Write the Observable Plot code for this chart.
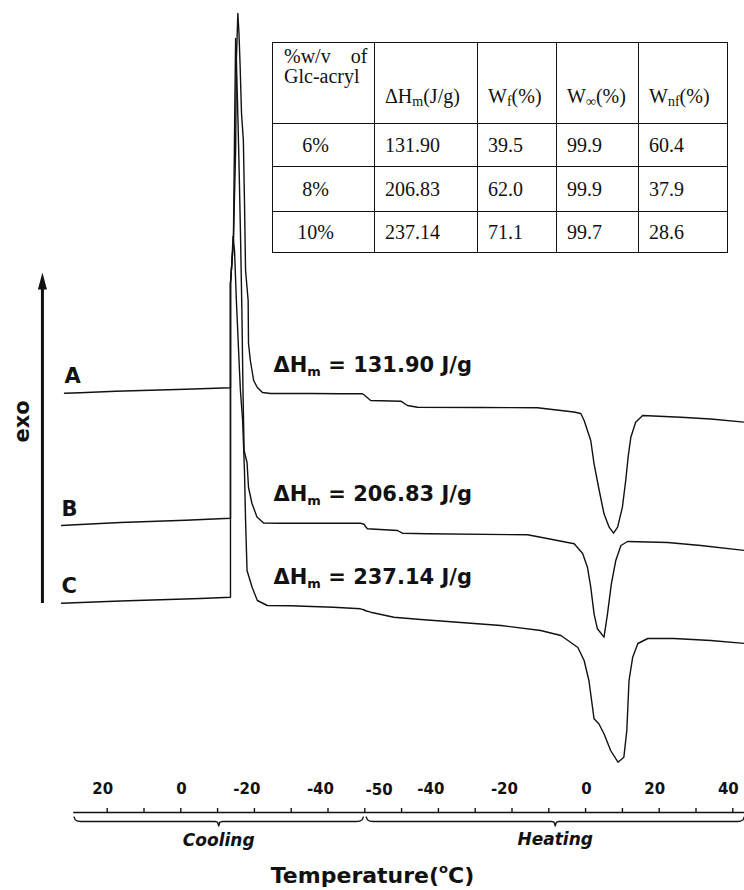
<!DOCTYPE html>
<html><head><meta charset="utf-8">
<script src="https://cdn.jsdelivr.net/npm/d3@7"></script>
<script src="https://cdn.jsdelivr.net/npm/@observablehq/plot@0.6"></script>
<style>
html,body{margin:0;padding:0;background:#fff;}
#wrap{position:relative;width:744px;height:890px;overflow:hidden;background:#fff;}
#wrap svg{position:absolute;left:0;top:0;}
table.dsc{position:absolute;left:272px;top:42px;border-collapse:collapse;table-layout:fixed;width:455px;
  font-family:"Liberation Serif","Times New Roman",serif;font-size:20px;color:#111;background:#fff;}
table.dsc td{border:1.5px solid #111;padding:0 0 0 10px;line-height:20px;vertical-align:middle;white-space:nowrap;overflow:hidden;}
table.dsc tr.hd td{vertical-align:top;padding-top:43px;}
table.dsc tr.hd td.first{padding-top:3px;padding-left:11px;}
table.dsc td.c1{text-align:center;padding-left:0;padding-right:16px;}
table.dsc sub{font-size:14px;line-height:0;vertical-align:-3px;}
</style>
</head><body>
<div id="wrap"></div>
<script>
// ---------- data (temperature in °C, heat flow in arbitrary units, exo up) ----------
const curveNames = ["A", "B", "C"];
const coolA = [[31.6,41.93],[27.3,41.97],[17.7,42.13],[-1.3,42.33],[-13.5,42.47],[-13.5,52.9],[-14.3,57.2],[-14.9,66.2],[-15.1,75.2],[-15.5,79.9],[-15.8,78.0],[-16.1,74.9],[-16.5,69.9],[-17.0,67.2],[-17.3,61.2],[-17.6,54.2],[-18.3,51.2],[-18.4,46.9],[-18.9,45.2],[-19.8,43.2],[-20.8,42.5],[-22.2,42.0],[-24.4,41.9],[-35.2,41.9],[-43.4,41.88],[-49.3,41.87],[-49.9,41.75]];
const heatA = [[-60,41.7],[-58.4,41.2],[-50.2,41.13],[-48.4,40.7],[-45.7,40.53],[-28.5,40.5],[-13.1,40.47],[-6.7,40.2],[-3.2,40.05],[-1.3,39.9],[-0.4,39.2],[1.4,37.2],[2.3,34.87],[3.7,32.2],[5.0,29.87],[6.4,28.53],[7.6,27.93],[8.7,28.53],[10.0,30.53],[10.9,33.2],[11.55,35.53],[12.3,37.53],[13.6,39.03],[15.5,39.7],[25.9,39.53],[34.0,39.35],[43.3,39.03]];
const coolB = [[32.4,28.7],[27.3,28.8],[16.4,29.0],[-1.3,29.23],[-13.5,29.43],[-13.5,52.9],[-14.3,57.2],[-14.7,71.2],[-14.9,77.4],[-15.1,75.2],[-15.4,71.2],[-15.8,65.2],[-16.2,58.2],[-16.6,50.2],[-16.9,42.2],[-17.2,36.2],[-18.0,35.0],[-18.4,32.5],[-19.35,30.9],[-20.7,29.55],[-22.5,28.95],[-27.1,28.93],[-48.8,28.93],[-49.9,28.8]];
const heatB = [[-60,28.7],[-59.3,28.37],[-51.1,28.2],[-49.8,27.93],[-43.0,27.87],[-15.8,27.77],[-12.2,27.53],[-3.1,26.87],[-0.8,25.9],[0.5,24.53],[1.4,22.53],[2.3,19.87],[3.2,18.37],[4.3,17.87],[5.0,17.53],[5.95,19.87],[7.0,22.87],[8.2,25.2],[9.6,26.7],[11.4,27.1],[22.3,27.0],[31.3,26.7],[43.3,26.2]];
const coolC = [[32.4,20.93],[16.4,21.15],[-5.35,21.4],[-13.5,21.53],[-13.5,52.9],[-13.9,55.2],[-14.2,57.6],[-14.6,56.2],[-15.1,51.2],[-15.7,46.2],[-16.2,42.2],[-16.8,39.2],[-17.3,34.2],[-17.6,29.2],[-18.0,24.2],[-19.4,22.5],[-20.8,21.2],[-23.5,20.7],[-29.8,20.67],[-41.5,20.53],[-48.8,20.37],[-49.9,20.25]];
const heatC = [[-60,20.2],[-58.4,20.03],[-52.1,19.53],[-44.8,19.3],[-33.9,19.0],[-23.0,18.7],[-12.2,18.2],[-6.7,17.7],[-2.1,16.5],[-0.4,15.2],[0.9,13.2],[2.3,9.37],[3.6,8.87],[5.0,7.87],[6.8,6.2],[8.8,5.03],[10.4,5.53],[11.2,8.2],[11.8,13.2],[12.8,15.53],[14.2,16.9],[16.9,17.4],[24.0,17.4],[34.0,17.2],[43.3,16.9]];

// table values
const concentration = ["6%", "8%", "10%"];
const deltaHm = [131.90, 206.83, 237.14];
const wF = [39.5, 62.0, 71.1];
const wInf = [99.9, 99.9, 99.7];
const wNF = [60.4, 37.9, 28.6];

// axis ticks
const coolTicks = [20, 10, 0, -10, -20, -30, -40, -50];
const heatTicks = [-50, -40, -30, -20, -10, 0, 10, 20, 30, 40];
const coolTickLabels = [20, 0, -20, -40];
const heatTickLabels = [-40, -20, 0, 20, 40];
const heatStartLabel = [-50];

// ---------- composite x position: cooling (20 → -50) then heating (-60 → 40) ----------
const coolU = T => (20 - T) / 10;
const heatU = T => 7 + (T + 60) / 10;

const rows = [];
function add(seg, arr, f) { for (const [T, v] of arr) rows.push({seg, u: f(T), v}); }
add("A-c", coolA, coolU); add("A-h", heatA, heatU);
add("B-c", coolB, coolU); add("B-h", heatB, heatU);
add("C-c", coolC, coolU); add("C-h", heatC, heatU);

const coolCurves = [coolA, coolB, coolC];
const tailFlow = coolCurves.map(c => c.find(p => p[0] <= -24)[1]);

function brace(u0, u1, name) {
  const m = (u0 + u1) / 2;
  const pts = [[u0,-0.45],[u0+0.03,-0.72],[u0+0.1,-0.87],[u0+0.18,-0.9],[m-0.1,-0.9],[m-0.03,-0.97],[m,-1.35],[m+0.03,-0.97],[m+0.1,-0.9],[u1-0.18,-0.9],[u1-0.1,-0.87],[u1-0.03,-0.72],[u1,-0.45]];
  return pts.map(([u, v]) => ({name, u, v}));
}
const braceCool = brace(coolU(29.0), coolU(-49.6), "cool");
const braceHeat = brace(heatU(-59.6), heatU(43.1), "heat");
const braces = braceCool.concat(braceHeat);
const coolMid = (braceCool[0].u + braceCool[braceCool.length-1].u) / 2;
const heatMid = (braceHeat[0].u + braceHeat[braceHeat.length-1].u) / 2;

const FONT = "DejaVu Sans";
const pxPerUnit = 36.8;
const exoU = coolU(37.6);
const arrowHead = {draw(ctx) { ctx.moveTo(0, 0); ctx.lineTo(4.5, 17); ctx.lineTo(-4.5, 17); ctx.closePath(); }};

const tickU = coolTicks.map(coolU).concat(heatTicks.map(heatU));
const dhStrings = deltaHm.map(d => d.toFixed(2));

const svg = Plot.plot({
  width: 744, height: 890,
  marginTop: 0, marginBottom: 78, marginLeft: 0, marginRight: 0,
  x: {domain: [-106.7 / pxPerUnit, (744 - 106.7) / pxPerUnit], axis: null},
  y: {domain: [0, 81.2], axis: null},
  style: {background: "white", color: "#111"},
  marks: [
    Plot.line(rows, {x: "u", y: "v", z: "seg", stroke: "#111", strokeWidth: 1.4}),
    // x axis
    Plot.ruleY([0], {x1: coolU(29.1), x2: heatU(44), stroke: "#111", strokeWidth: 1.4}),
    Plot.ruleX(tickU, {x: d => d, y1: 0, y2: 0.4, stroke: "#111", strokeWidth: 1.4}),
    Plot.line(braces, {x: "u", y: "v", z: "name", stroke: "#111", strokeWidth: 1.3}),
    Plot.text(coolTickLabels, {x: d => coolU(d), y: 0, text: d => String(d), textAnchor: "end", lineAnchor: "bottom", dx: 6, dy: -19, fontFamily: FONT, fontWeight: "bold", fontSize: 15}),
    Plot.text(heatTickLabels, {x: d => heatU(d), y: 0, text: d => String(d), textAnchor: "end", lineAnchor: "bottom", dx: 6, dy: -19, fontFamily: FONT, fontWeight: "bold", fontSize: 15}),
    Plot.text(heatStartLabel, {x: d => heatU(d), y: 0, text: d => String(d), textAnchor: "end", lineAnchor: "bottom", dx: -9, dy: -18, fontFamily: FONT, fontWeight: "bold", fontSize: 15}),
    Plot.text(["Cooling"], {x: () => coolMid, y: 0, dy: 33, lineAnchor: "bottom", fontFamily: FONT, fontWeight: "bold", fontStyle: "italic", fontSize: 17}),
    Plot.text(["Heating"], {x: () => heatMid, y: 0, dy: 32, lineAnchor: "bottom", fontFamily: FONT, fontWeight: "bold", fontStyle: "italic", fontSize: 17}),
    Plot.text(["Temperature(oC)"], {frameAnchor: "bottom", dy: 70, lineAnchor: "bottom", fontFamily: FONT, fontWeight: "bold", fontSize: 22}),
    // exo arrow
    Plot.ruleX([exoU], {x: d => d, y1: 20.9, y2: 52.6, stroke: "#111", strokeWidth: 3}),
    Plot.dot([exoU], {x: d => d, y: 54.0, symbol: arrowHead, fill: "#111", stroke: "none", r: 5}),
    Plot.text(["exo"], {frameAnchor: "left", dx: 22, y: 37.0, rotate: -90, fontFamily: FONT, fontWeight: "bold", fontSize: 21}),
    // curve labels
    Plot.text(curveNames, {x: (d, i) => coolU(coolCurves[i][0][0]), y: (d, i) => coolCurves[i][0][1], textAnchor: "start", lineAnchor: "bottom", dy: -10, fontFamily: FONT, fontWeight: "bold", fontSize: 21}),
    // enthalpy labels
    Plot.text(dhStrings, {x: () => coolU(-25.2), y: (d, i) => tailFlow[i], text: d => d, textAnchor: "start", lineAnchor: "bottom", dy: -22, fontFamily: FONT, fontWeight: "bold", fontSize: 21})
  ]
});

// rich text: subscripts / superscripts
d3.select(svg).selectAll("text").each(function() {
  const s = this.textContent;
  if (dhStrings.includes(s)) {
    const t = d3.select(this).text(null);
    t.append("tspan").text("ΔH");
    t.append("tspan").attr("font-size", 13).attr("dy", 4).text("m");
    t.append("tspan").attr("dy", -4).text(" = " + s + " J/g");
  } else if (s === "Temperature(oC)") {
    const t = d3.select(this).text(null);
    t.append("tspan").text("Temperature(");
    t.append("tspan").attr("font-size", 13).attr("dy", -10).text("o");
    t.append("tspan").attr("dy", 10).text("C)");
  }
});

const wrap = document.getElementById("wrap");
wrap.appendChild(svg);

// table
const fmt1 = v => v.toFixed(1);
let html = '<table class="dsc"><colgroup><col style="width:102px"><col style="width:103px"><col style="width:79px"><col style="width:82px"><col style="width:89px"></colgroup>';
html += '<tr class="hd" style="height:81px"><td class="first">%w/v&nbsp;&nbsp;&nbsp; of<br>Glc-acryl</td>' +
  '<td>ΔH<sub>m</sub>(J/g)</td><td>W<sub>f</sub>(%)</td><td>W<sub>∞</sub>(%)</td><td>W<sub>nf</sub>(%)</td></tr>';
const rh = [43, 45, 41];
concentration.forEach((c, i) => {
  html += `<tr style="height:${rh[i]}px"><td class="c1">${c}</td><td>${deltaHm[i].toFixed(2)}</td><td>${fmt1(wF[i])}</td><td>${fmt1(wInf[i])}</td><td>${fmt1(wNF[i])}</td></tr>`;
});
html += '</table>';
wrap.insertAdjacentHTML("beforeend", html);
</script>
</body></html>
